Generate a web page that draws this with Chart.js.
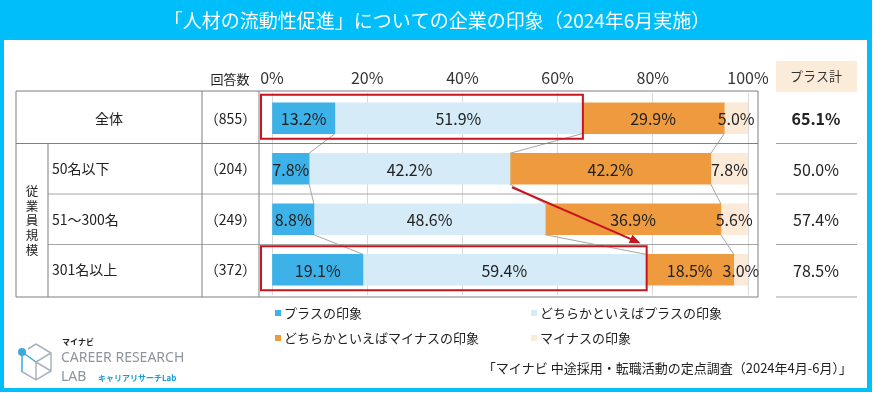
<!DOCTYPE html>
<html>
<head>
<meta charset="utf-8">
<script src="https://cdn.jsdelivr.net/npm/chart.js@4.4.1/dist/chart.umd.min.js"></script>
<style>
  html, body { margin: 0; padding: 0; background: #fff; }
  canvas { display: block; }
</style>
</head>
<body>
<canvas id="c" width="876" height="393"></canvas>
<script>
const FONT = '"Noto Sans CJK JP", "Noto Sans", sans-serif';

// data
const title = '「人材の流動性促進」についての企業の印象（2024年6月実施）';
const categories = ['全体', '50名以下', '51～300名', '301名以上'];
const counts = ['（855）', '（204）', '（249）', '（372）'];
const seriesNames = ['プラスの印象', 'どちらかといえばプラスの印象', 'どちらかといえばマイナスの印象', 'マイナスの印象'];
const plus = [13.2, 7.8, 8.8, 19.1];
const ratherPlus = [51.9, 42.2, 48.6, 59.4];
const ratherMinus = [29.9, 42.2, 36.9, 18.5];
const minus = [5.0, 7.8, 5.6, 3.0];
const plusTotal = [65.1, 50.0, 57.4, 78.5];
const xTicks = [0, 20, 40, 60, 80, 100];
const source = '「マイナビ 中途採用・転職活動の定点調査（2024年4月-6月）」';

const colors = ['#3DB2E8', '#D5EBF7', '#EE9B40', '#FCEAD8'];
const CYAN = '#00BEFA';

function line(ctx, x1, y1, x2, y2) {
  ctx.beginPath();
  ctx.moveTo(x1, y1);
  ctx.lineTo(x2, y2);
  ctx.stroke();
}

// background, frame, title bar
const framePlugin = {
  id: 'frame',
  beforeDraw(chart) {
    const ctx = chart.ctx;
    ctx.save();
    ctx.fillStyle = '#fff';
    ctx.fillRect(0, 0, chart.width, chart.height);
    ctx.fillStyle = CYAN;
    ctx.fillRect(0, 0, 872, 40);
    ctx.fillRect(0, 0, 4, 392);
    ctx.fillRect(867, 0, 5, 392);
    ctx.fillRect(0, 388, 872, 4);

    ctx.fillStyle = '#fff';
    ctx.font = `19px ${FONT}`;
    ctx.textAlign = 'center';
    ctx.textBaseline = 'middle';
    ctx.fillText(title, 437, 21);

    // header of the right column
    ctx.fillStyle = '#FBEBD9';
    ctx.fillRect(776, 61, 81, 31);
    ctx.restore();
  }
};

const overlayPlugin = {
  id: 'overlay',
  afterDatasetsDraw(chart) {
    const ctx = chart.ctx;
    const metas = [0, 1, 2, 3].map(d => chart.getDatasetMeta(d));
    ctx.save();

    // series lines between rows
    ctx.strokeStyle = '#A6A6A6';
    ctx.lineWidth = 1;
    for (let d = 0; d < 3; d++) {
      const bars = metas[d].data;
      for (let i = 0; i < bars.length - 1; i++) {
        const a = bars[i], b = bars[i + 1];
        line(ctx, a.x, a.y + a.height / 2, b.x, b.y - b.height / 2);
      }
    }

    // value labels
    ctx.fillStyle = '#222';
    ctx.font = `16px ${FONT}`;
    ctx.textAlign = 'center';
    ctx.textBaseline = 'middle';
    chart.data.datasets.forEach((ds, d) => {
      metas[d].data.forEach((bar, i) => {
        ctx.fillText(ds.data[i].toFixed(1) + '%', (bar.x + bar.base) / 2, bar.y + 1);
      });
    });
    ctx.restore();
  },
  afterDraw(chart) {
    const ctx = chart.ctx;
    const ys = chart.scales.y;
    const xs = chart.scales.x;
    const centers = categories.map((_, i) => ys.getPixelForValue(i));
    const half = (centers[1] - centers[0]) / 2;
    const top = centers[0] - half - 2;
    const bottom = centers[centers.length - 1] + half + 2;
    const seps = [1, 2, 3].map(i => (centers[i - 1] + centers[i]) / 2);
    const L = 16, C1 = 48, C2 = 202, PL = 259, PR = 758;

    ctx.save();
    // table + plot box lines
    ctx.lineWidth = 1;
    ctx.strokeStyle = '#A6A6A6';
    line(ctx, C1, seps[1], PR, seps[1]);
    line(ctx, C1, seps[2], PR, seps[2]);
    ctx.strokeStyle = '#7F7F7F';
    line(ctx, L, top, PR, top);
    line(ctx, L, seps[0], PR, seps[0]);
    line(ctx, L, bottom, PR, bottom);
    [L, C2, PL, PR].forEach(x => line(ctx, x, top, x, bottom));
    line(ctx, C1, seps[0], C1, bottom);

    // right column separators
    ctx.strokeStyle = '#A0A0A0';
    [seps[0], seps[1], seps[2], bottom].forEach(y => line(ctx, 776, y, 857, y));

    // table texts
    ctx.fillStyle = '#222';
    ctx.textBaseline = 'middle';
    ctx.font = `13px ${FONT}`;
    ctx.textAlign = 'center';
    ctx.fillText('回答数', 230, 79);
    ctx.font = `14px ${FONT}`;
    ctx.fillText(categories[0], (L + C2) / 2, centers[0]);
    counts.forEach((c, i) => ctx.fillText(c, (C2 + PL) / 2, centers[i]));
    ctx.textAlign = 'left';
    for (let i = 1; i < categories.length; i++) {
      ctx.fillText(categories[i], C1 + 4, centers[i]);
    }
    ctx.textAlign = 'center';
    ctx.font = `12.5px ${FONT}`;
    [...'従業員規模'].forEach((ch, k) => ctx.fillText(ch, (L + C1) / 2, 191 + k * 14.8));

    // right column
    ctx.font = `13px ${FONT}`;
    ctx.fillStyle = '#333';
    ctx.fillText('プラス計', 816, 76);
    plusTotal.forEach((v, i) => {
      ctx.font = (i === 0 ? 'bold ' : '') + `16px ${FONT}`;
      ctx.fillStyle = '#222';
      ctx.fillText(v.toFixed(1) + '%', 816, centers[i] + 1);
    });

    // red highlight boxes around the plus share of rows 0 and 3
    const plusMeta = chart.getDatasetMeta(1).data;
    const boxes = [0, 3].map(i => {
      const b = plusMeta[i];
      return {
        l: xs.getPixelForValue(0) - 11,
        r: b.x + 1,
        t: b.y - b.height / 2 - 8,
        b: b.y + b.height / 2 + 5
      };
    });
    ctx.strokeStyle = '#C8151D';
    ctx.lineWidth = 2;
    boxes.forEach(bx => ctx.strokeRect(bx.l, bx.t, bx.r - bx.l, bx.b - bx.t));

    // arrow
    const m2 = chart.getDatasetMeta(2).data[1];
    const sx = m2.base + 2, sy = m2.y + m2.height / 2 + 3;
    const ex = boxes[1].r - 6, ey = boxes[1].t - 3;
    const ang = Math.atan2(ey - sy, ex - sx);
    ctx.lineWidth = 2;
    line(ctx, sx, sy, ex - 8 * Math.cos(ang), ey - 8 * Math.sin(ang));
    ctx.fillStyle = '#C8151D';
    ctx.beginPath();
    ctx.moveTo(ex, ey);
    ctx.lineTo(ex - 11 * Math.cos(ang) + 4.5 * Math.sin(ang), ey - 11 * Math.sin(ang) - 4.5 * Math.cos(ang));
    ctx.lineTo(ex - 11 * Math.cos(ang) - 4.5 * Math.sin(ang), ey - 11 * Math.sin(ang) + 4.5 * Math.cos(ang));
    ctx.closePath();
    ctx.fill();

    // legend
    const legendPos = [[275, 313], [531, 313], [275, 338], [531, 338]];
    ctx.font = `13px ${FONT}`;
    ctx.textAlign = 'left';
    chart.data.datasets.forEach((ds, d) => {
      const [lx, ly] = legendPos[d];
      ctx.fillStyle = ds.backgroundColor;
      ctx.fillRect(lx, ly - 3, 6, 6);
      ctx.fillStyle = '#222';
      ctx.fillText(ds.label, lx + 9, ly);
    });

    // source note
    ctx.textAlign = 'right';
    ctx.fillText(source, 852, 368);

    // logo
    ctx.strokeStyle = '#A9B3BD';
    ctx.lineWidth = 1.5;
    ctx.beginPath();
    ctx.moveTo(36, 344);
    ctx.lineTo(51, 353);
    ctx.lineTo(51, 371);
    ctx.lineTo(36, 380);
    ctx.lineTo(21, 371);
    ctx.moveTo(36, 344);
    ctx.lineTo(28, 349);
    ctx.moveTo(36, 362);
    ctx.lineTo(51, 353);
    ctx.moveTo(36, 362);
    ctx.lineTo(36, 380);
    ctx.moveTo(36, 362);
    ctx.lineTo(51, 371);
    ctx.stroke();
    ctx.strokeStyle = '#3DA8DF';
    ctx.beginPath();
    ctx.moveTo(22, 356);
    ctx.lineTo(22, 371);
    ctx.moveTo(22, 352);
    ctx.lineTo(36, 362);
    ctx.stroke();
    ctx.fillStyle = '#3DA8DF';
    ctx.beginPath();
    ctx.arc(22, 352, 4, 0, Math.PI * 2);
    ctx.fill();

    ctx.textBaseline = 'middle';
    ctx.textAlign = 'left';
    ctx.fillStyle = '#222';
    ctx.font = `bold 8px ${FONT}`;
    ctx.fillText('マイナビ', 62, 342);
    ctx.fillStyle = '#8E959C';
    ctx.font = `14px "Noto Sans", sans-serif`;
    ctx.fillText('CAREER RESEARCH', 61, 358);
    ctx.fillText('LAB', 61, 377);
    ctx.fillStyle = '#1E9AD6';
    ctx.font = `bold 8px ${FONT}`;
    ctx.fillText('キャリアリサーチLab', 98, 378);
    ctx.restore();
  }
};

new Chart(document.getElementById('c'), {
  type: 'bar',
  data: {
    labels: categories,
    datasets: [
      { label: seriesNames[0], data: plus, backgroundColor: colors[0] },
      { label: seriesNames[1], data: ratherPlus, backgroundColor: colors[1] },
      { label: seriesNames[2], data: ratherMinus, backgroundColor: colors[2] },
      { label: seriesNames[3], data: minus, backgroundColor: colors[3] }
    ]
  },
  options: {
    indexAxis: 'y',
    responsive: false,
    animation: false,
    devicePixelRatio: 1,
    layout: { padding: { left: 272, right: 128, top: 63, bottom: 98 } },
    datasets: { bar: { barThickness: 31, borderWidth: 0 } },
    plugins: {
      legend: { display: false },
      tooltip: { enabled: false }
    },
    scales: {
      x: {
        position: 'top',
        stacked: true,
        min: 0,
        max: 100,
        afterBuildTicks: s => { s.ticks = xTicks.map(v => ({ value: v })); },
        afterFit: s => { s.height = 30; },
        grid: { color: '#D9D9D9', drawTicks: false },
        border: { display: false },
        ticks: {
          padding: 5,
          color: '#333',
          font: { family: FONT, size: 16 },
          callback: v => v + '%'
        }
      },
      y: { stacked: true, display: false }
    }
  },
  plugins: [framePlugin, overlayPlugin]
});
</script>
</body>
</html>
